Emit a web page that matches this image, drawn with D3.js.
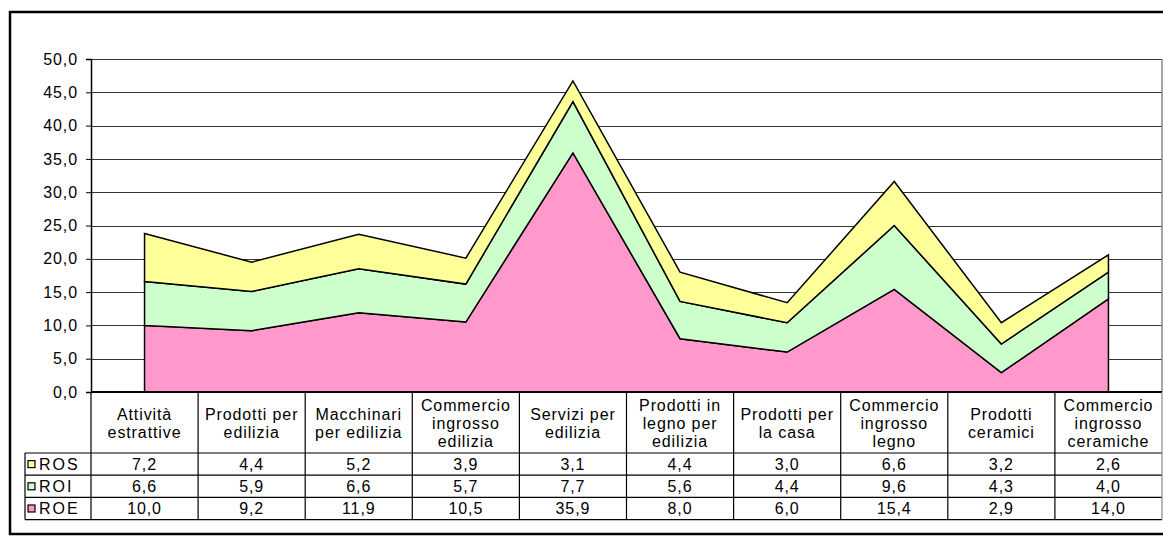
<!DOCTYPE html>
<meta charset="utf-8">
<html>
<head>
<script src="https://d3js.org/d3.v7.min.js"></script>
<style>
  body { margin: 0; background: #fff; }
  text { font-family: Arial, "Liberation Sans", sans-serif; font-size: 16px; fill: #000; letter-spacing: 0.9px; }
  .legend-label { letter-spacing: 2px; }
</style>
</head>
<body>
<div id="my_dataviz"></div>
<script>

var categories = [
  "Attività\nestrattive", "Prodotti per\nedilizia", "Macchinari\nper edilizia",
  "Commercio\ningrosso\nedilizia", "Servizi per\nedilizia", "Prodotti in\nlegno per\nedilizia",
  "Prodotti per\nla casa", "Commercio\ningrosso\nlegno", "Prodotti\nceramici",
  "Commercio\ningrosso\nceramiche"
];
var ros = [7.2, 4.4, 5.2, 3.9, 3.1, 4.4, 3.0, 6.6, 3.2, 2.6];
var roi = [6.6, 5.9, 6.6, 5.7, 7.7, 5.6, 4.4, 9.6, 4.3, 4.0];
var roe = [10.0, 9.2, 11.9, 10.5, 35.9, 8.0, 6.0, 15.4, 2.9, 14.0];
var yTicks = [0, 5, 10, 15, 20, 25, 30, 35, 40, 45, 50];

// table rows, top to bottom as in the picture
var rows = [
  {key: "ROS", values: ros, color: "#FFFF99"},
  {key: "ROI", values: roi, color: "#CCFFCC"},
  {key: "ROE", values: roe, color: "#FF99CC"}
];

var W = 1163, H = 538;
var plot = {left: 91, right: 1162, top: 59, bottom: 392};
var headerBottom = 453, rowH = 22.2, legendLeft = 25;

var itFormat = d3.formatLocale({decimal: ",", thousands: ".", grouping: [3], currency: ["", "€"]}).format(".1f");

var svg = d3.select("#my_dataviz").append("svg")
  .attr("width", W).attr("height", H);

// outer frame
svg.append("rect")
  .attr("x", 10).attr("y", 12).attr("width", 1180).attr("height", 522)
  .attr("fill", "none").attr("stroke", "#000").attr("stroke-width", 2.5);

var x = d3.scaleBand().domain(categories).range([plot.left, plot.right]);
var y = d3.scaleLinear().domain([0, 50]).range([plot.bottom, plot.top]);
var cx = function(c) { return x(c) + x.bandwidth() / 2; };

// gridlines
svg.append("g").selectAll("line").data(yTicks.slice(1)).enter().append("line")
  .attr("x1", plot.left).attr("x2", plot.right)
  .attr("y1", function(d) { return Math.round(y(d)) + 0.5; })
  .attr("y2", function(d) { return Math.round(y(d)) + 0.5; })
  .attr("stroke", "#333").attr("stroke-width", 1);

// stacked areas
var table = categories.map(function(c, i) {
  return {cat: c, ROE: roe[i], ROI: roi[i], ROS: ros[i]};
});
var stack = d3.stack().keys(["ROE", "ROI", "ROS"]);
var series = stack(table);
var colors = {ROE: "#FF99CC", ROI: "#CCFFCC", ROS: "#FFFF99"};

var area = d3.area()
  .x(function(d) { return cx(d.data.cat); })
  .y0(function(d) { return y(d[0]); })
  .y1(function(d) { return y(d[1]); });

svg.append("g").selectAll("path").data(series).enter().append("path")
  .attr("d", area)
  .attr("fill", function(d) { return colors[d.key]; })
  .attr("stroke", "#000").attr("stroke-width", 1.5).attr("stroke-linejoin", "miter");

// right border of plot
svg.append("line")
  .attr("x1", plot.right).attr("x2", plot.right).attr("y1", plot.top).attr("y2", plot.bottom)
  .attr("stroke", "#888").attr("stroke-width", 1.5);

// y axis
var yAxis = d3.axisLeft(y).tickValues(yTicks).tickSize(5).tickPadding(8)
  .tickFormat(function(d) { return itFormat(d); });
var ya = svg.append("g").attr("transform", "translate(" + plot.left + ",0)").call(yAxis);
ya.select(".domain").attr("stroke", "#000").attr("stroke-width", 1.5);
ya.selectAll("text").attr("font-size", null).attr("font-family", null).attr("fill", "#000");

// data table
var tableBottom = headerBottom + rowH * rows.length;
var tg = svg.append("g").attr("stroke", "#000").attr("stroke-width", 1.2);

// x axis line / header top
tg.append("line").attr("x1", plot.left).attr("x2", plot.right)
  .attr("y1", plot.bottom).attr("y2", plot.bottom).attr("stroke-width", 1.8);

// horizontal row lines
tg.selectAll(".hrow").data(d3.range(rows.length + 1)).enter().append("line")
  .attr("x1", legendLeft).attr("x2", plot.right)
  .attr("y1", function(i) { return headerBottom + i * rowH; })
  .attr("y2", function(i) { return headerBottom + i * rowH; });

// vertical column lines
tg.selectAll(".vcol").data(categories.concat(["end"])).enter().append("line")
  .attr("x1", function(c) { return c === "end" ? plot.right : x(c); })
  .attr("x2", function(c) { return c === "end" ? plot.right : x(c); })
  .attr("y1", plot.bottom).attr("y2", tableBottom)
  .attr("stroke", function(c) { return c === "end" ? "#888" : "#000"; });

tg.append("line").attr("x1", legendLeft).attr("x2", legendLeft)
  .attr("y1", headerBottom).attr("y2", tableBottom);

// header labels
var lineH = 18;
svg.append("g").selectAll("text").data(categories).enter().append("text")
  .attr("text-anchor", "middle")
  .attr("x", cx)
  .each(function(c) {
    var lines = c.split("\n");
    var t = d3.select(this);
    var top = 423 - (lines.length - 1) * lineH / 2;
    lines.forEach(function(l, i) {
      t.append("tspan").attr("x", cx(c)).attr("y", top + i * lineH)
        .attr("dy", "0.35em").text(l);
    });
  });

// rows: legend key + values
rows.forEach(function(r, ri) {
  var cy = headerBottom + ri * rowH + rowH / 2;
  svg.append("rect")
    .attr("x", 28).attr("y", cy - 3.5).attr("width", 7).attr("height", 7)
    .attr("fill", r.color).attr("stroke", "#000").attr("stroke-width", 1.2);
  svg.append("text").attr("class", "legend-label")
    .attr("x", 39).attr("y", cy).attr("dy", "0.35em").text(r.key);
  svg.append("g").selectAll("text").data(r.values).enter().append("text")
    .attr("text-anchor", "middle")
    .attr("x", function(d, i) { return cx(categories[i]); })
    .attr("y", cy).attr("dy", "0.35em")
    .text(function(d) { return itFormat(d); });
});

</script>
</body>
</html>
